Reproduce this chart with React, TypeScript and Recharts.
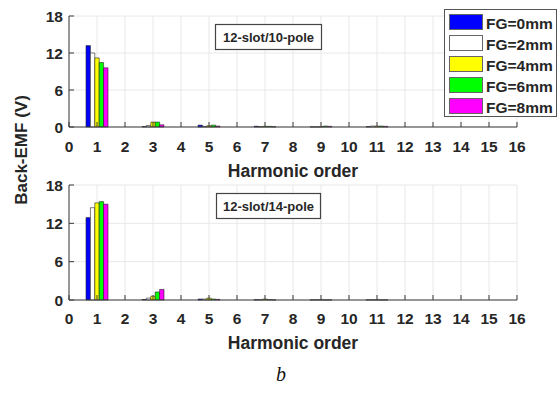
import React from 'react';
import { BarChart, Bar, XAxis, YAxis, CartesianGrid, Legend } from 'recharts';

const harmonics = [1, 3, 5, 7, 9, 11];
const seriesNames = ['FG=0mm', 'FG=2mm', 'FG=4mm', 'FG=6mm', 'FG=8mm'];
const seriesKeys = ['fg0', 'fg2', 'fg4', 'fg6', 'fg8'];
const seriesColors = ['#0000FF', '#FFFFFF', '#FFFF00', '#00FF00', '#FF00FF'];
const xTicks = [0, 1, 2, 3, 4, 5, 6, 7, 8, 9, 10, 11, 12, 13, 14, 15, 16];
const yTicks = [0, 6, 12, 18];

// 12-slot/10-pole, per harmonic 1,3,5,7,9,11
const p10_fg0 = [13.2, 0.08, 0.3, 0.12, 0.02, 0.05];
const p10_fg2 = [12.0, 0.25, 0.1, 0.05, 0.02, 0.15];
const p10_fg4 = [11.2, 0.8, 0.2, 0.1, 0.05, 0.15];
const p10_fg6 = [10.45, 0.8, 0.3, 0.1, 0.15, 0.15];
const p10_fg8 = [9.6, 0.35, 0.15, 0.05, 0.1, 0.1];

// 12-slot/14-pole
const p14_fg0 = [12.9, 0.08, 0.15, 0.05, 0.02, 0.02];
const p14_fg2 = [14.45, 0.3, 0.15, 0.05, 0.02, 0.02];
const p14_fg4 = [15.2, 0.6, 0.3, 0.15, 0.02, 0.02];
const p14_fg6 = [15.4, 1.25, 0.15, 0.05, 0.02, 0.02];
const p14_fg8 = [15.0, 1.65, 0.1, 0.02, 0.02, 0.02];

const build = (arrs: number[][]) =>
  harmonics.map((h, i) => {
    const row: Record<string, number> = { h };
    seriesKeys.forEach((k, j) => {
      row[k] = arrs[j][i];
    });
    return row;
  });

const data10 = build([p10_fg0, p10_fg2, p10_fg4, p10_fg6, p10_fg8]);
const data14 = build([p14_fg0, p14_fg2, p14_fg4, p14_fg6, p14_fg8]);

const FONT = 'Liberation Sans, Arial, Helvetica, sans-serif';
const AXIS = '#3a3a3a';
const TXT = '#262626';

const LegendBox = () => (
  <svg width={113} height={108} style={{ display: 'block' }}>
    <rect x={0.5} y={0.5} width={112} height={107} fill="#fff" stroke="#555" strokeWidth={1} />
    {seriesNames.map((n, i) => (
      <g key={n}>
        <rect x={5.5} y={5.5 + i * 21} width={33} height={15} fill={seriesColors[i]} stroke="#666" strokeWidth={1} />
        <text x={42} y={19.5 + i * 21} fontFamily={FONT} fontWeight="bold" fontSize={15.5} fill={TXT}>
          {n}
        </text>
      </g>
    ))}
  </svg>
);

type PanelProps = {
  data: Record<string, number>[];
  height: number;
  top: number;
  marginTop: number;
  plotH: number;
  tickMargin: number;
  labelOffset: number;
  showLegend: boolean;
};

const Panel = ({ data, height, top, marginTop, plotH, tickMargin, labelOffset, showLegend }: PanelProps) => (
  <div style={{ position: 'absolute', left: 0, top }}>
    <BarChart
      width={560}
      height={height}
      data={data}
      margin={{ top: marginTop, right: 43, left: 29, bottom: height - marginTop - plotH - 52 }}
      barGap={0}
    >
      <CartesianGrid stroke="#e8e8e8" strokeWidth={1} />
      <XAxis
        dataKey="h"
        type="number"
        domain={[0, 16]}
        ticks={xTicks}
        interval={0}
        height={52}
        tickSize={-5}
        tickMargin={tickMargin}
        stroke={AXIS}
        tick={{ fontSize: 15.5, fontWeight: 'bold', fill: TXT, fontFamily: FONT }}
        label={{
          value: 'Harmonic order',
          position: 'insideBottom',
          offset: labelOffset,
          style: { fontSize: 17.5, fontWeight: 'bold', fill: TXT, fontFamily: FONT },
        }}
      />
      <XAxis
        xAxisId="top"
        orientation="top"
        type="number"
        domain={[0, 16]}
        ticks={xTicks}
        interval={0}
        height={0}
        tickSize={-5}
        tick={false}
        stroke={AXIS}
      />
      <YAxis
        type="number"
        domain={[0, 18]}
        ticks={yTicks}
        interval={0}
        width={40}
        tickSize={-5}
        tickMargin={11}
        stroke={AXIS}
        tick={{ fontSize: 15.5, fontWeight: 'bold', fill: TXT, fontFamily: FONT }}
      />
      <YAxis
        yAxisId="right"
        orientation="right"
        type="number"
        domain={[0, 18]}
        ticks={yTicks}
        interval={0}
        width={0}
        tickSize={-5}
        tick={false}
        stroke={AXIS}
      />
      {seriesKeys.map((k, i) => (
        <Bar
          key={k}
          dataKey={k}
          name={seriesNames[i]}
          fill={seriesColors[i]}
          stroke="#222"
          strokeWidth={0.6}
          barSize={4.4}
          isAnimationActive={false}
        />
      ))}
      {showLegend && (
        <Legend
          layout="vertical"
          align="center"
          verticalAlign="middle"
          content={() => <LegendBox />}
          wrapperStyle={{ left: 444, top: 9, width: 113, height: 108 }}
        />
      )}
    </BarChart>
  </div>
);

export default function App() {
  return (
    <div style={{ position: 'absolute', left: 0, top: 0, width: 560, height: 398, background: '#fff', overflow: 'hidden' }}>
      <Panel data={data10} height={185} top={0} marginTop={16} plotH={111} tickMargin={19} labelOffset={2.5} showLegend={true} />
      <Panel data={data14} height={215} top={170} marginTop={15} plotH={115} tickMargin={18} labelOffset={3} showLegend={false} />
      <svg width={560} height={398} style={{ position: 'absolute', left: 0, top: 0, pointerEvents: 'none' }}>
        <text
          x={27}
          y={150}
          transform="rotate(-90, 27, 150)"
          textAnchor="middle"
          fontFamily={FONT}
          fontWeight="bold"
          fontSize={17}
          fill={TXT}
        >
          Back-EMF (V)
        </text>
        <rect x={215.5} y={24.5} width={106} height={25} fill="#fff" stroke="#444" strokeWidth={1.2} />
        <text x={268.5} y={41.5} textAnchor="middle" fontFamily={FONT} fontWeight="bold" fontSize={13} fill={TXT}>
          12-slot/10-pole
        </text>
        <rect x={216.5} y={193.5} width={104} height={25} fill="#fff" stroke="#444" strokeWidth={1.2} />
        <text x={268.5} y={210.5} textAnchor="middle" fontFamily={FONT} fontWeight="bold" fontSize={13} fill={TXT}>
          12-slot/14-pole
        </text>
        <text x={276} y={381} fontFamily="Liberation Serif, Times New Roman, serif" fontStyle="italic" fontSize={20} fill="#111">
          b
        </text>
      </svg>
    </div>
  );
}
